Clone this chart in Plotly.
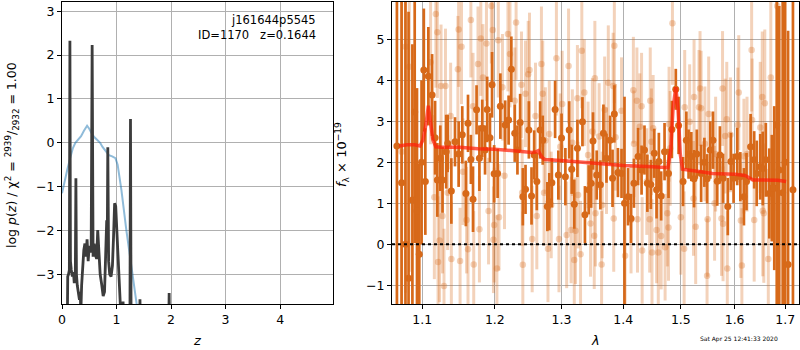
import plotly.graph_objects as go

# ---------------- left panel: p(z) ----------------
z_pz = [0.095, 0.105, 0.12, 0.135, 0.145, 0.155, 0.17, 0.19, 0.21, 0.225, 0.235, 0.245, 0.255,
        0.265, 0.28, 0.30, 0.32, 0.335, 0.345, 0.36, 0.38, 0.40, 0.42, 0.44, 0.46, 0.48, 0.50,
        0.52, 0.535, 0.553, 0.57, 0.59, 0.61, 0.635, 0.655, 0.675, 0.70, 0.73, 0.755, 0.78,
        0.80, 0.82, 0.83, 0.84, 0.855, 0.875, 0.90, 0.925, 0.945, 0.965, 0.985, 1.00, 1.02,
        1.05, 1.07, 1.10, 1.12, 1.14, 1.245, 1.256, 1.268, 1.42, 1.43, 1.44, 1.955, 1.965, 1.975]
logp_pz = [-4.5, -3.05, -3.0, -2.9, 2.33, -2.7, -2.9, -3.05, -2.95, -3.2, -3.1, -2.9, -0.81,
           -3.0, -3.25, -3.45, -3.58, -3.4, -3.9, -3.25, -2.75, -2.45, -2.3, -2.6, -2.2, -2.7, -2.35,
           -2.5, -2.4, 2.23, -2.6, -2.3, -2.55, -2.65, -1.99, -2.55, -3.0, -3.25, -3.5, -3.4,
           -2.3, -1.77, -2.3, -0.10, -2.7, -3.0, -3.05, -2.8, -2.15, -1.38, -1.45, -1.99, -2.7,
           -3.36, -4.5, -4.5, -3.62, -4.5, -4.5, 0.54, -4.5, -4.5, -3.57, -4.5, -4.5, -3.43, -4.5]

z_chi2 = [0.0, 0.05, 0.10, 0.15, 0.20, 0.245, 0.30, 0.35, 0.40, 0.46, 0.50, 0.55, 0.60, 0.65,
          0.70, 0.74, 0.80, 0.86, 0.92, 0.98, 1.02, 1.09, 1.18, 1.28, 1.37, 1.45]
chi2_scaled = [-1.15, -0.85, -0.6, -0.35, -0.12, 0.0, 0.08, 0.15, 0.27, 0.39, 0.32, 0.2, 0.12, 0.06,
               0.0, -0.09, -0.18, -0.28, -0.31, -0.35, -0.5, -1.08, -1.99, -2.9, -3.66, -4.4]

# ---------------- right panel: spectrum ----------------
wave_a = [1.067, 1.073, 1.078, 1.082, 1.087, 1.090, 1.093, 1.096, 1.099, 1.102, 1.104, 1.108,
          1.113, 1.117, 1.120, 1.124, 1.127, 1.132, 1.134, 1.139, 1.144, 1.149, 1.154, 1.159,
          1.162, 1.166, 1.169, 1.174, 1.178, 1.182, 1.186, 1.189, 1.193, 1.196, 1.199, 1.204,
          1.208, 1.215, 1.220, 1.224, 1.229, 1.233, 1.237, 1.241, 1.245, 1.250, 1.254, 1.258,
          1.262, 1.267, 1.271, 1.278, 1.281, 1.285, 1.290, 1.295, 1.300, 1.306, 1.312, 1.316,
          1.320, 1.325, 1.333, 1.337, 1.343, 1.347, 1.350, 1.356, 1.362, 1.367, 1.372, 1.378,
          1.382, 1.385, 1.391, 1.397, 1.402, 1.408, 1.413, 1.418, 1.425, 1.431, 1.436, 1.441,
          1.447, 1.453, 1.457, 1.461, 1.465, 1.471, 1.478, 1.484, 1.491, 1.496, 1.504, 1.510,
          1.514, 1.519, 1.524, 1.529, 1.537, 1.543, 1.548, 1.554, 1.559, 1.567, 1.572, 1.578,
          1.587, 1.593, 1.598, 1.605, 1.611, 1.618, 1.623, 1.631, 1.638, 1.643, 1.650, 1.655,
          1.661, 1.668, 1.673, 1.678, 1.683, 1.688, 1.695, 1.700, 1.706, 1.716]
flux_a = [2.4, 1.5, 0.0, -0.83, 1.08, 3.23, 0.81, -0.24, 2.0, 4.25, 1.53, 4.10,
          3.64, 2.60, 1.57, 2.10, 1.57, 2.26, 2.46, 1.30, 2.50, 2.20, 2.67, 1.24,
          2.95, 2.07, 1.10, 3.28, 2.10, 2.83, 2.30, 3.29, 2.60, 3.89, 1.72, 1.73,
          3.37, 2.91, 3.03, 4.27, 2.71, 2.30, 2.97, 1.16, 1.34, 2.79, 1.18, 2.18,
          1.53, 2.79, 2.54, 0.92, 1.04, 1.50, 3.29, 1.69, 2.59, 1.65, 2.79, 1.83,
          0.98, 2.34, 2.99, 0.72, 1.33, 1.49, 2.52, 1.69, 1.45, 2.71, 2.10, 2.54,
          1.61, 3.18, 1.75, 1.73, 1.00, 1.16, 0.63, 1.49, 2.14, 1.81, 2.30, 1.49,
          1.46, 2.22, 1.33, 2.02, 1.18, 2.26, 1.73, 2.80, 3.78, 2.90, 1.53, 2.54,
          2.20, 2.14, 1.60, 2.20, 1.73, 2.00, 1.60, 2.30, 2.54, 1.54, 2.18, 1.61,
          0.92, 2.02, 1.61, 2.14, 1.65, 1.16, 1.53, 2.38, 2.06, 1.73, 1.89, 1.85,
          2.06, 1.24, 1.37, 1.37, 2.91, 1.81, 1.26, 2.00, -0.49, 1.33]
err_a = [9.0, 9.0, 7.0, 6.5, 3.8, 3.2, 3.0, 2.2, 2.0, 1.5, 1.3, 1.2,
         1.0, 0.9, 0.9, 0.8, 0.8, 0.9, 0.7, 0.8, 0.6, 0.8, 0.7, 0.8,
         0.7, 0.6, 0.8, 0.6, 0.8, 0.7, 0.6, 0.8, 0.6, 0.8, 0.7, 0.6,
         0.8, 0.6, 0.6, 0.8, 0.7, 0.6, 0.7, 0.7, 0.6, 0.7, 0.7, 0.6,
         0.7, 0.7, 0.6, 0.6, 0.7, 0.6, 0.7, 0.6, 0.6, 0.7, 0.7, 0.6,
         0.6, 0.7, 0.6, 0.7, 0.6, 0.6, 0.7, 0.6, 0.6, 0.7, 0.6, 0.6,
         0.7, 0.7, 0.6, 0.6, 2.6, 0.7, 0.6, 0.6, 0.7, 0.6, 0.6, 0.7,
         0.6, 0.6, 0.7, 0.7, 0.6, 0.7, 0.6, 0.7, 0.5, 0.7, 0.6, 0.7,
         0.6, 0.6, 0.7, 0.6, 0.7, 0.6, 0.6, 0.7, 0.7, 0.6, 0.7, 0.6,
         0.7, 0.7, 0.6, 0.7, 0.6, 0.7, 0.7, 0.8, 0.7, 0.8, 0.8, 0.9,
         0.9, 1.1, 1.3, 2.0, 4.5, 4.0, 6.0, 7.0, 5.7, 9.0]

wave_b = [1.073, 1.078, 1.083, 1.111, 1.116, 1.118, 1.120, 1.121, 1.123, 1.125, 1.127, 1.129,
          1.131, 1.134, 1.138, 1.139, 1.148, 1.149, 1.151, 1.153, 1.155, 1.160, 1.162, 1.166,
          1.169, 1.170, 1.176, 1.178, 1.180, 1.183, 1.188, 1.191, 1.195, 1.197, 1.198, 1.199,
          1.203, 1.205, 1.206, 1.211, 1.214, 1.219, 1.222, 1.229, 1.231, 1.239, 1.240, 1.241,
          1.245, 1.249, 1.251, 1.255, 1.260, 1.262, 1.269, 1.271, 1.273, 1.275, 1.279, 1.281,
          1.284, 1.292, 1.296, 1.298, 1.301, 1.308, 1.311, 1.315, 1.317, 1.320, 1.322, 1.325,
          1.326, 1.330, 1.332, 1.336, 1.342, 1.346, 1.349, 1.352, 1.353, 1.354, 1.360, 1.364,
          1.365, 1.369, 1.372, 1.375, 1.383, 1.384, 1.385, 1.387, 1.397, 1.403, 1.413, 1.417,
          1.418, 1.423, 1.424, 1.428, 1.431, 1.432, 1.440, 1.445, 1.446, 1.448, 1.449, 1.451,
          1.457, 1.460, 1.465, 1.472, 1.476, 1.478, 1.479, 1.481, 1.485, 1.500, 1.506, 1.507,
          1.516, 1.523, 1.524, 1.527, 1.533, 1.535, 1.537, 1.544, 1.548, 1.549, 1.551, 1.562,
          1.564, 1.575, 1.577, 1.578, 1.582, 1.585, 1.586, 1.592, 1.606, 1.608, 1.612, 1.614,
          1.618, 1.624, 1.633, 1.634, 1.638, 1.650, 1.654, 1.655, 1.657, 1.659, 1.666, 1.671,
          1.684]
flux_b = [2.26, 4.82, 4.33, 4.44, 1.15, 5.62, 5.17, -0.43, 0.09, 3.86, 0.69, -1.02,
          3.86, 1.26, 3.13, -0.36, 4.27, 5.24, -0.41, 4.82, 1.77, 0.59, -0.12, 5.47,
          3.37, -0.49, 4.40, 0.37, 5.02, 4.07, 4.90, 0.81, 5.81, 5.23, 0.11, 0.47,
          -0.59, 4.98, 0.66, 3.83, 1.67, 5.13, 4.64, 3.50, 5.41, 3.89, 1.26, -0.50,
          3.67, 4.15, 4.25, 0.13, 3.13, 0.69, 4.40, 3.67, 1.26, 2.53, -0.11, 2.69,
          0.96, 4.54, 0.13, 2.38, 3.42, 0.23, 4.35, 0.35, 2.48, -0.38, 0.33, 3.56,
          1.20, -0.24, 4.72, 3.70, 2.18, 0.51, 2.75, 0.21, 4.05, 0.76, 2.63, -0.49,
          0.96, 3.28, 2.04, 3.94, 3.86, 0.63, 4.84, 2.61, 3.26, -0.28, 0.59, 3.76,
          2.45, 3.50, 0.61, 2.87, 3.37, -0.15, 1.53, 0.61, 3.50, 2.50, -0.20, 2.83,
          0.35, -0.20, 0.20, -0.07, 0.76, 0.41, 2.93, 2.34, 5.39, 0.66, -0.11, 3.34,
          2.99, 1.12, 3.59, 0.43, 3.34, 3.80, 3.32, 2.45, -0.77, 0.61, 3.18, 1.00,
          2.20, 0.63, 3.80, 0.50, 2.64, 3.05, -0.59, 2.67, 2.91, 3.70, 0.58, -0.52,
          2.15, 2.20, 4.74, 3.03, 0.59, 2.85, 3.59, 0.82, 0.76, 3.44, -0.36, 4.07,
          5.81]
err_b = [6.0, 6.0, 5.0, 2.0, 2.0, 1.8, 1.6, 1.6, 1.5, 1.5, 1.4, 1.4,
         1.4, 1.4, 1.3, 1.4, 1.3, 1.4, 1.3, 1.4, 1.3, 1.3, 1.4, 1.4,
         1.3, 1.3, 1.4, 1.3, 1.4, 1.3, 1.4, 1.3, 1.4, 1.3, 1.3, 1.4,
         1.3, 1.4, 1.3, 1.3, 1.3, 1.4, 1.3, 1.3, 1.4, 1.3, 1.3, 1.3,
         1.3, 1.3, 1.4, 1.3, 1.3, 1.3, 1.4, 1.3, 1.3, 1.3, 1.3, 1.3,
         1.3, 1.4, 1.3, 1.3, 1.3, 1.3, 1.4, 1.3, 1.3, 1.3, 1.3, 1.3,
         1.3, 1.3, 1.4, 1.3, 1.3, 1.3, 1.3, 1.3, 1.4, 1.3, 1.3, 1.3,
         1.3, 1.3, 1.3, 1.4, 1.3, 1.3, 1.4, 1.3, 1.3, 1.3, 1.3, 1.3,
         1.3, 1.3, 1.3, 1.3, 1.3, 1.3, 1.3, 1.3, 1.3, 1.3, 1.3, 1.3,
         1.3, 1.3, 1.3, 1.3, 1.3, 1.3, 1.4, 1.4, 1.5, 1.4, 1.4, 1.4,
         1.4, 1.4, 1.4, 1.4, 1.4, 1.4, 1.4, 1.4, 1.4, 1.4, 1.4, 1.4,
         1.4, 1.4, 1.4, 1.4, 1.4, 1.4, 1.4, 1.4, 1.4, 1.4, 1.4, 1.4,
         1.4, 1.4, 1.5, 1.5, 1.5, 1.6, 1.6, 1.6, 1.7, 1.8, 2.2, 3.0,
         5.0]

wave_model = [1.070, 1.080, 1.090, 1.097, 1.101, 1.105, 1.108, 1.111, 1.114, 1.118, 1.125, 1.150,
              1.176, 1.200, 1.234, 1.255, 1.260, 1.264, 1.270, 1.274, 1.304, 1.357, 1.400, 1.450,
              1.477, 1.482, 1.486, 1.491, 1.495, 1.499, 1.503, 1.530, 1.558, 1.601, 1.620, 1.636,
              1.668, 1.685, 1.702]
flux_model = [2.40, 2.43, 2.43, 2.40, 2.55, 2.95, 3.38, 3.00, 2.55, 2.38, 2.37, 2.37,
              2.33, 2.32, 2.26, 2.24, 2.25, 2.28, 2.12, 2.07, 2.04, 1.98, 1.92, 1.89,
              1.87, 2.30, 3.30, 3.83, 3.30, 2.20, 1.83, 1.78, 1.73, 1.71, 1.68, 1.57,
              1.57, 1.56, 1.53]

x_ticks_right = [1.1, 1.2, 1.3, 1.4, 1.5, 1.6, 1.7]
x_ticklabels_right = ["1.1", "1.2", "1.3", "1.4", "1.5", "1.6", "1.7"]

DARK = "rgb(215,105,25)"
LIGHT = "rgba(215,105,25,0.30)"
FONT = "DejaVu Sans"

fig = go.Figure()

# left panel
fig.add_trace(go.Scatter(x=z_chi2, y=chi2_scaled, mode="lines",
                         line=dict(color="rgba(31,119,180,0.5)", width=2),
                         xaxis="x", yaxis="y", showlegend=False, hoverinfo="skip"))
fig.add_trace(go.Scatter(x=z_pz, y=logp_pz, mode="lines",
                         line=dict(color="#3c3c3c", width=2.8),
                         xaxis="x", yaxis="y", showlegend=False, hoverinfo="skip"))

# right panel
fig.add_trace(go.Scatter(x=wave_b, y=flux_b, mode="markers",
                         marker=dict(color=LIGHT, size=6.5, line=dict(width=0)),
                         error_y=dict(type="data", array=err_b, color=LIGHT, thickness=3, width=0),
                         xaxis="x2", yaxis="y2", showlegend=False, hoverinfo="skip"))
fig.add_trace(go.Scatter(x=wave_a, y=flux_a, mode="markers",
                         marker=dict(color=DARK, size=7, line=dict(width=0)),
                         error_y=dict(type="data", array=err_a, color=DARK, thickness=2.7, width=0),
                         xaxis="x2", yaxis="y2", showlegend=False, hoverinfo="skip"))
fig.add_trace(go.Scatter(x=wave_model, y=flux_model, mode="lines",
                         line=dict(color="rgba(255,30,10,0.72)", width=3.5),
                         xaxis="x2", yaxis="y2", showlegend=False, hoverinfo="skip"))

ydom = [1 - 304 / 350, 1 - 2 / 350]
axis_common = dict(showline=True, linecolor="black", linewidth=1, mirror=True,
                   showgrid=True, gridcolor="#b0b0b0", gridwidth=1,
                   ticks="outside", ticklen=4, tickwidth=1, tickcolor="black",
                   tickfont=dict(family=FONT, size=12.5, color="black"),
                   zeroline=False, automargin=False)

fig.update_layout(
    width=800, height=350, autosize=False,
    margin=dict(l=0, r=0, t=0, b=0, pad=0),
    paper_bgcolor="white", plot_bgcolor="white",
    xaxis=dict(domain=[62 / 800, 333 / 800], range=[0, 4.97], anchor="y",
               tickvals=[0, 1, 2, 3, 4], **axis_common),
    yaxis=dict(domain=ydom, range=[-3.678, 3.212], anchor="x",
               tickvals=[-3, -2, -1, 0, 1, 2, 3], **axis_common),
    xaxis2=dict(domain=[392 / 800, 799 / 800], type="log", range=[0.02560, 0.23767],
                anchor="y2", tickvals=x_ticks_right, ticktext=x_ticklabels_right, **axis_common),
    yaxis2=dict(domain=ydom, range=[-1.456, 5.91], anchor="x2",
                tickvals=[-1, 0, 1, 2, 3, 4, 5], **axis_common),
)

# zero line
fig.add_shape(type="line", xref="x2 domain", yref="y2", x0=0, x1=1, y0=0, y1=0,
              line=dict(color="black", width=2, dash="dot"))

ann_font = dict(family=FONT, size=13, color="black")
annotations = [
    dict(text="j161644p5545", x=318 / 800, y=1 - 20 / 350, xanchor="right", yanchor="middle",
         font=dict(family=FONT, size=11.5, color="black")),
    dict(text="ID=1170\u00a0\u00a0\u00a0z=0.1644", x=318 / 800, y=1 - 35 / 350, xanchor="right",
         yanchor="middle", font=dict(family=FONT, size=11.5, color="black")),
    dict(text="<i>z</i>", x=197.5 / 800, y=1 - 340 / 350, xanchor="center", yanchor="middle",
         font=ann_font),
    dict(text="<i>λ</i>", x=595 / 800, y=1 - 340 / 350, xanchor="center", yanchor="middle",
         font=ann_font),
    dict(text="log <i>p</i>(<i>z</i>) / χ<sup>2</sup> = <sup>2939</sup>/<sub>2932</sub> = 1.00",
         x=12 / 800, y=1 - 155 / 350, xanchor="center", yanchor="middle", textangle=-90,
         font=dict(family=FONT, size=12.5, color="black")),
    dict(text="<i>f</i><sub>λ</sub> × 10<sup>−19</sup>", x=342 / 800, y=1 - 155 / 350,
         xanchor="center", yanchor="middle", textangle=-90, font=ann_font),
    dict(text="Sat Apr 25 12:41:33 2020", x=698 / 800, y=1 - 339 / 350, xanchor="left",
         yanchor="middle", font=dict(family=FONT, size=6, color="black")),
]
for a in annotations:
    a.update(xref="paper", yref="paper", showarrow=False)
    fig.add_annotation(**a)

fig.write_html("out.html", config={"displayModeBar": False},
               post_script="document.body.style.margin='0px';document.body.style.padding='0px';")
